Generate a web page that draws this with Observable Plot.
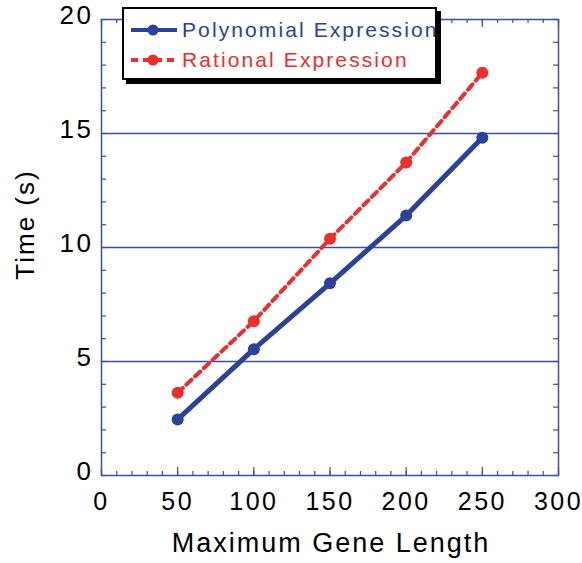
<!DOCTYPE html>
<html>
<head>
<meta charset="utf-8">
<script src="https://cdn.jsdelivr.net/npm/d3@7"></script>
<script src="https://cdn.jsdelivr.net/npm/@observablehq/plot@0.6"></script>
<style>
  html, body { margin: 0; padding: 0; background: #fff; }
  #wrap { position: relative; width: 582px; height: 563px; font-family: "Liberation Sans", Arial, sans-serif; }
  #legend { position: absolute; left: 122px; top: 7px; width: 311px; height: 69px; border: 2px solid #000; background: #fff; box-shadow: 4px 4px 0 #000; }
  .row { position: absolute; left: 0; height: 26px; line-height: 26px; white-space: nowrap; font-size: 21px; letter-spacing: 2.1px; }
  .row svg { position: absolute; left: 7px; top: 0; }
  .row span { position: absolute; left: 58px; top: 0; }
</style>
</head>
<body>
<div id="wrap"></div>
<script>
// ---- data ----
const geneLength = [50, 100, 150, 200, 250];
const polynomialTime = [2.46, 5.54, 8.43, 11.40, 14.81];
const rationalTime = [3.63, 6.77, 10.38, 13.73, 17.66];
const seriesNames = ["Polynomial Expression", "Rational Expression"];
const xTickValues = [0, 50, 100, 150, 200, 250, 300];
const yTickValues = [0, 5, 10, 15, 20];
const gridValues = [5, 10, 15];
const xLabel = "Maximum Gene Length";
const yLabel = "Time (s)";

// ---- styling ----
const blue = "#2b419c";
const red = "#ee2d2d";
const axisBlue = "#3a4ea6";
const W = 582, H = 563;
const mL = 101, mR = 24, mT = 19, mB = 88;
const fw = W - mL - mR, fh = H - mT - mB;

const poly = geneLength.map((x, i) => ({x, y: polynomialTime[i]}));
const rat = geneLength.map((x, i) => ({x, y: rationalTime[i]}));
const xMinor = d3.range(0, 301, 10);
const xMajor = xTickValues;
const yMinor = d3.range(0, 21, 1);

const chart = Plot.plot({
  width: W, height: H,
  marginLeft: mL, marginRight: mR, marginTop: mT, marginBottom: mB,
  style: {fontFamily: "Liberation Sans, Arial, sans-serif", fontSize: "26px", color: "#000", background: "#fff", letterSpacing: "2.5px"},
  x: {domain: [0, 300]},
  y: {domain: [0, 20]},
  marks: [
    Plot.ruleY(gridValues, {stroke: axisBlue, strokeWidth: 1.3}),
    // inward ticks left/right
    Plot.tickY(yMinor, {y: d => d, insetRight: fw - 5, stroke: axisBlue, strokeWidth: 1.2}),
    Plot.tickY(yMinor, {y: d => d, insetLeft: fw - 5, stroke: axisBlue, strokeWidth: 1.2}),
    // inward ticks bottom/top
    Plot.tickX(xMinor, {x: d => d, insetTop: fh - 4, stroke: axisBlue, strokeWidth: 1.2}),
    Plot.tickX(xMajor, {x: d => d, insetTop: fh - 8, stroke: axisBlue, strokeWidth: 1.2}),
    Plot.tickX(xMinor, {x: d => d, insetBottom: fh - 4, stroke: axisBlue, strokeWidth: 1.2}),
    Plot.tickX(xMajor, {x: d => d, insetBottom: fh - 8, stroke: axisBlue, strokeWidth: 1.2}),
    Plot.frame({stroke: axisBlue, strokeWidth: 1.5}),
    Plot.axisY({ticks: yTickValues, tickSize: 0, tickPadding: 8, dy: -3.5, label: null, fill: "#000", fontSize: 26}),
    Plot.axisX({ticks: xTickValues, tickSize: 0, tickPadding: 17, dx: 0, label: null, fill: "#000", fontSize: 25}),
    Plot.text([yLabel], {frameAnchor: "left", textAnchor: "middle", dx: -76, dy: -23, rotate: -90, fontSize: 26, fill: "#000"}),
    Plot.text([xLabel], {frameAnchor: "bottom", dy: 57, dx: 1, lineAnchor: "top", fontSize: 27, fill: "#000"}),
    Plot.line(rat, {x: "x", y: "y", stroke: red, strokeWidth: 4, strokeDasharray: "7,5"}),
    Plot.dot(rat, {x: "x", y: "y", r: 6, fill: red}),
    Plot.line(poly, {x: "x", y: "y", stroke: blue, strokeWidth: 5}),
    Plot.dot(poly, {x: "x", y: "y", r: 6, fill: blue})
  ]
});

const wrap = document.getElementById("wrap");
wrap.appendChild(chart);
chart.querySelectorAll('g[aria-label="text"] text').forEach(t => t.style.letterSpacing = "2px");

// legend
const legend = document.createElement("div");
legend.id = "legend";
const styles = [{color: blue, dash: null}, {color: red, dash: "7,5"}];
seriesNames.forEach((name, i) => {
  const row = document.createElement("div");
  row.className = "row";
  row.style.top = (8 + i * 30) + "px";
  row.style.width = "311px";
  const s = styles[i];
  row.innerHTML = `<svg width="46" height="26"><line x1="0" x2="46" y1="13" y2="13" stroke="${s.color}" stroke-width="4"${s.dash ? ` stroke-dasharray="${s.dash}"` : ""}/><circle cx="22" cy="13" r="5.5" fill="${s.color}"/></svg><span style="color:${s.color}">${name}</span>`;
  legend.appendChild(row);
});
wrap.appendChild(legend);
</script>
</body>
</html>
